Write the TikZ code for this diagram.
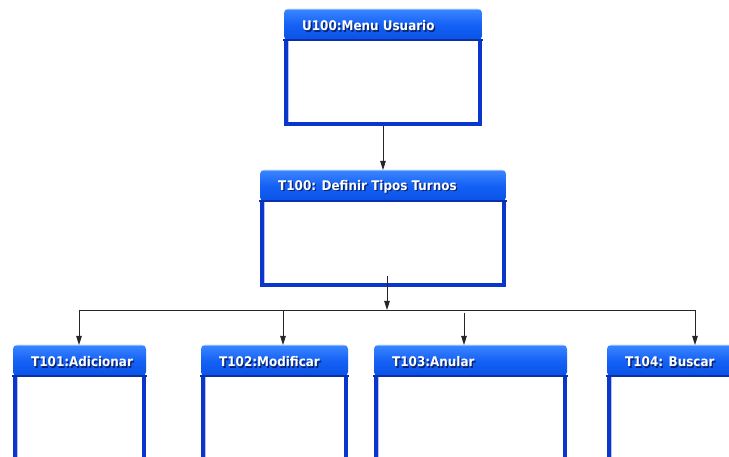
\documentclass[tikz,border=0pt]{standalone}
\usepackage{fontspec}
\newfontfamily\hdrfont{DejaVu Sans Condensed}
\usetikzlibrary{arrows.meta}
\definecolor{hdrtop}{HTML}{3C86FF}
\definecolor{hdrmid}{HTML}{1562F5}
\definecolor{hdrbot}{HTML}{0A52E6}
\definecolor{brd}{HTML}{0A36CC}
\definecolor{hdrline}{HTML}{0A2FA8}
\definecolor{shadowc}{HTML}{0A2470}
\tikzset{
  conn/.style={draw=black!85, line width=0.9pt},
  arr/.style={conn, -{Triangle[length=9pt,width=5.5pt]}},
  lbl/.style={font=\hdrfont\bfseries\fontsize{13.3}{15}\selectfont, text=white, anchor=west, inner sep=0pt},
  lblsh/.style={font=\hdrfont\bfseries\fontsize{13.3}{15}\selectfont, text=shadowc, anchor=west, inner sep=0pt},
}
% #1 name, #2 left, #3 top, #4 right, #5 bottom, #6 title
\newcommand{\umlbox}[6]{%
  \fill[white] (#2,#3+31) rectangle (#4,#5);
  \draw[brd, line width=3.6pt] (#2+1.8,#3+31) -- (#2+1.8,#5-1.8) -- (#4-1.8,#5-1.8) -- (#4-1.8,#3+31);
  \draw[white!70!brd, line width=0.8pt] (#2+4,#3+32) -- (#2+4,#5-4);
  \shade[top color=hdrtop, bottom color=hdrbot, middle color=hdrmid, rounded corners=4pt]
     (#2,#3+31) -- (#2,#3) -- (#4,#3) -- (#4,#3+31) -- cycle;
  \draw[hdrtop!60!white, line width=0.8pt] (#2+3,#3+0.5) -- (#4-3,#3+0.5);
  \draw[hdrline, line width=2pt] (#2-1,#3+31) -- (#4+0.5,#3+31);
  \node[lblsh] (#1s) at (#2+19.3,#3+18.3) {#6};
  \node[lbl] (#1t) at (#2+18,#3+17) {#6};
  \coordinate (#1-top) at ({(#2+#4)/2},#3);
  \coordinate (#1-bot) at ({(#2+#4)/2},#5);
}
\begin{document}
\begin{tikzpicture}[x=1pt,y=-1pt]
  \useasboundingbox (0,0) rectangle (729,457);
  \clip (0,0) rectangle (729,457);
  \fill[white] (0,0) rectangle (729,457);
  \umlbox{u100}{284}{9}{482}{126}{U100:Menu Usuario}
  \umlbox{t100}{260}{170}{506}{287}{T100: Definir Tipos Turnos}
  \umlbox{t101}{13}{345}{146}{480}{T101:Adicionar}
  \umlbox{t102}{201}{345}{348}{480}{T102:Modificar}
  \umlbox{t103}{374}{345}{567}{480}{T103:Anular}
  \umlbox{t104}{607}{345}{770}{480}{T104: Buscar}
  % connector points
  \coordinate (a1) at (383,126);
  \coordinate (a2) at (383,170);
  \coordinate (b1) at (387,276);
  \coordinate (bus) at (387,310);
  \coordinate (busL) at (79,310);
  \coordinate (busR) at (695,310);
  \coordinate (d1) at (79,345);
  \coordinate (c2) at (283,310);
  \coordinate (d2) at (283,345);
  \coordinate (c3) at (464,313);
  \coordinate (d3) at (464,345);
  \coordinate (d4) at (695,345);
  \draw[arr] (a1) -- (a2);
  \draw[arr] (b1) -- (bus);
  \draw[conn] (busL) -- (busR);
  \draw[arr] (busL) -- (d1);
  \draw[arr] (c2) -- (d2);
  \draw[arr] (c3) -- (d3);
  \draw[arr] (busR) -- (d4);
\end{tikzpicture}
\end{document}
